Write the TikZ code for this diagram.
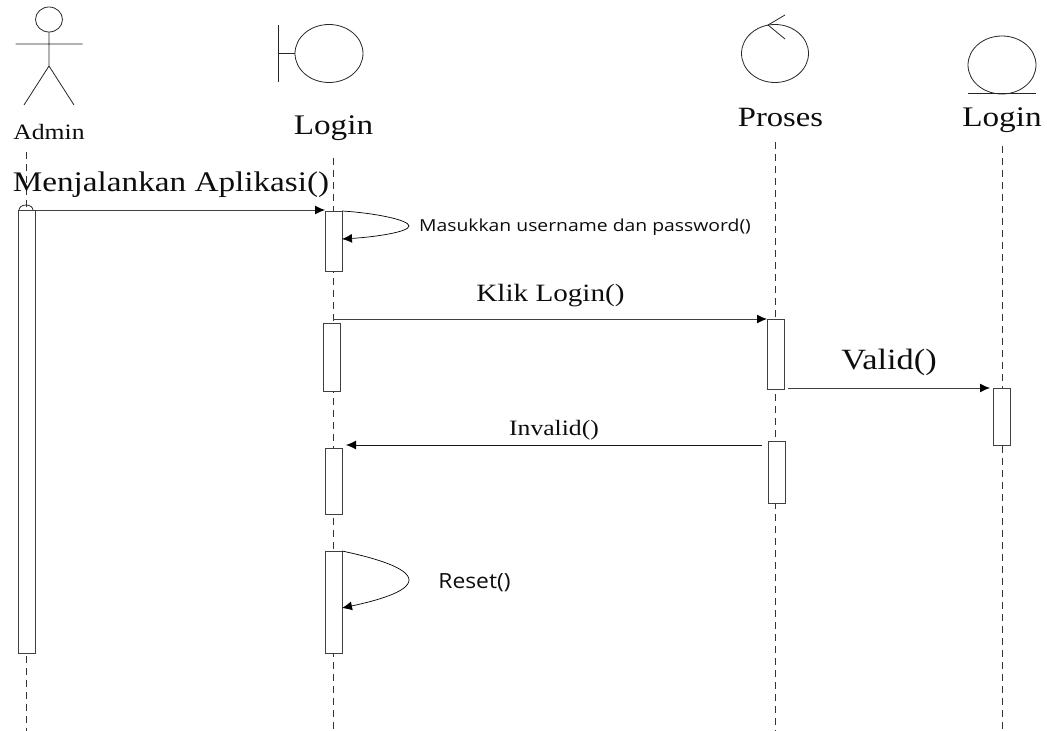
\documentclass[tikz,border=0pt]{standalone}
\usepackage{fontspec}
\setmainfont[FakeStretch=1.17]{Liberation Serif}
\newfontfamily\uisans[FakeStretch=1.17]{Open Sans}
\newfontfamily\uisansb[FakeStretch=1.09]{Open Sans}
\usetikzlibrary{arrows.meta}
\tikzset{
  shapeline/.style={draw=black!85,line width=0.8bp},
  lifeline/.style={draw=black!80,line width=0.8bp,dash pattern=on 7bp off 5bp},
  activation/.style={draw=black!75,fill=white,line width=1bp,minimum width=17bp,inner sep=0,outer sep=0,rectangle},
  message/.style={draw=black!75,line width=1bp,-{Latex[black,length=10bp,width=9bp]}},
  selfmsg/.style={draw=black,line width=0.7bp,-{Latex[black,length=10bp,width=9bp]}},
  serif/.style={inner sep=0,anchor=base,text=black!95,font=\fontsize{#1}{#1}\selectfont},
  sans/.style={inner sep=0,anchor=base,text=black!95,font=\uisans\fontsize{#1}{#1}\selectfont},
  sansb/.style={inner sep=0,anchor=base,text=black!95,font=\uisansb\fontsize{#1}{#1}\selectfont},
}
\begin{document}
\begin{tikzpicture}[x=1bp,y=-1bp]
\useasboundingbox (0,0) rectangle (1047,731);
% lifeline ends
\coordinate (adminTop) at (26,152); \coordinate (adminEnd) at (26,731);
\coordinate (loginTop) at (333,158); \coordinate (loginEnd) at (333,731);
\coordinate (prosesTop) at (775,142); \coordinate (prosesEnd) at (775,731);
\coordinate (entityTop) at (1002,146); \coordinate (entityEnd) at (1002,731);
\draw[lifeline] (adminTop) -- (adminEnd);
\draw[lifeline] (loginTop) -- (loginEnd);
\draw[lifeline] (prosesTop) -- (prosesEnd);
\draw[lifeline] (entityTop) -- (entityEnd);
% actor
\draw[shapeline] (49,19.5) ellipse [x radius=13.5,y radius=12.5];
\draw[shapeline] (49,32) -- (49,66) (15.5,44) -- (82.5,44) (24,105) -- (49,66) -- (74,105);
\node[serif=22] (admin) at (49,140) {Admin};
% boundary
\draw[shapeline] (329,53.5) ellipse [x radius=34,y radius=29];
\draw[shapeline] (278.5,25) -- (278.5,82) (278.5,53.5) -- (295,53.5);
\node[serif=28.5] (loginA) at (333.5,134.5) {Login};
% control
\draw[shapeline] (775,53.5) ellipse [x radius=33.5,y radius=29];
\draw[shapeline] (785,15) -- (768,25) -- (785,39);
\node[serif=28] (proses) at (780.5,126.7) {Proses};
% entity
\draw[shapeline] (1002,65) ellipse [x radius=34,y radius=29];
\draw[shapeline,line width=1bp] (968,94) -- (1036,94);
\node[serif=28.5] (loginB) at (1002,126.7) {Login};
% activations
\draw[shapeline] (19,210) arc[start angle=180,end angle=360,x radius=7,y radius=5];
\node[activation,minimum height=443bp,anchor=north] (actAdmin) at (26.5,210) {};
\node[activation,minimum height=60bp,anchor=north] (actL1) at (333.5,211) {};
\node[activation,minimum height=68bp,anchor=north] (actL2) at (331.5,323) {};
\node[activation,minimum height=66bp,anchor=north] (actL3) at (333.5,448) {};
\node[activation,minimum height=102bp,anchor=north] (actL4) at (333.5,551) {};
\node[activation,minimum height=70bp,anchor=north] (actP1) at (775.5,319) {};
\node[activation,minimum height=62bp,anchor=north] (actP2) at (777,441) {};
\node[activation,minimum height=57bp,anchor=north] (actE1) at (1002,388) {};
% message ends
\coordinate (m1s) at (actAdmin.north east);
\coordinate (m2s) at (333,319);
\coordinate (m3s) at (788,388);
\coordinate (m3e) at (990,388);
\coordinate (m4s) at (762,445);
\coordinate (m4e) at (346,445);
\draw[message] (m1s) -- (actL1.north west |- m1s);
\draw[message] (m2s) -- (actP1.north west);
\draw[message] (m3s) -- (m3e);
\draw[draw=black!90,line width=0.8bp,-{Latex[black,length=10bp,width=9bp]}] (m4s) -- (m4e);
\draw[selfmsg] (actL1.north east) .. controls (375,213) and (409,220) .. (409,226)
  .. controls (409,232) and (375,237) .. (342,239);
\draw[selfmsg] (actL4.north east) .. controls (375,558) and (409,568) .. (409,580)
  .. controls (409,592) and (375,601) .. (342,608);
% labels
\node[serif=28.5] (m1) at (171,191.5) {Menjalankan Aplikasi()};
\node[sans=16.6] (l1) at (585,231) {Masukkan username dan password()};
\node[serif=25] (m2) at (550.5,301.5) {Klik Login()};
\node[serif=29.5] (m3) at (889,369) {Valid()};
\node[serif=22] (m4) at (554,435) {Invalid()};
\node[sansb=21] (l2) at (474.5,588) {Reset()};
\end{tikzpicture}
\end{document}
